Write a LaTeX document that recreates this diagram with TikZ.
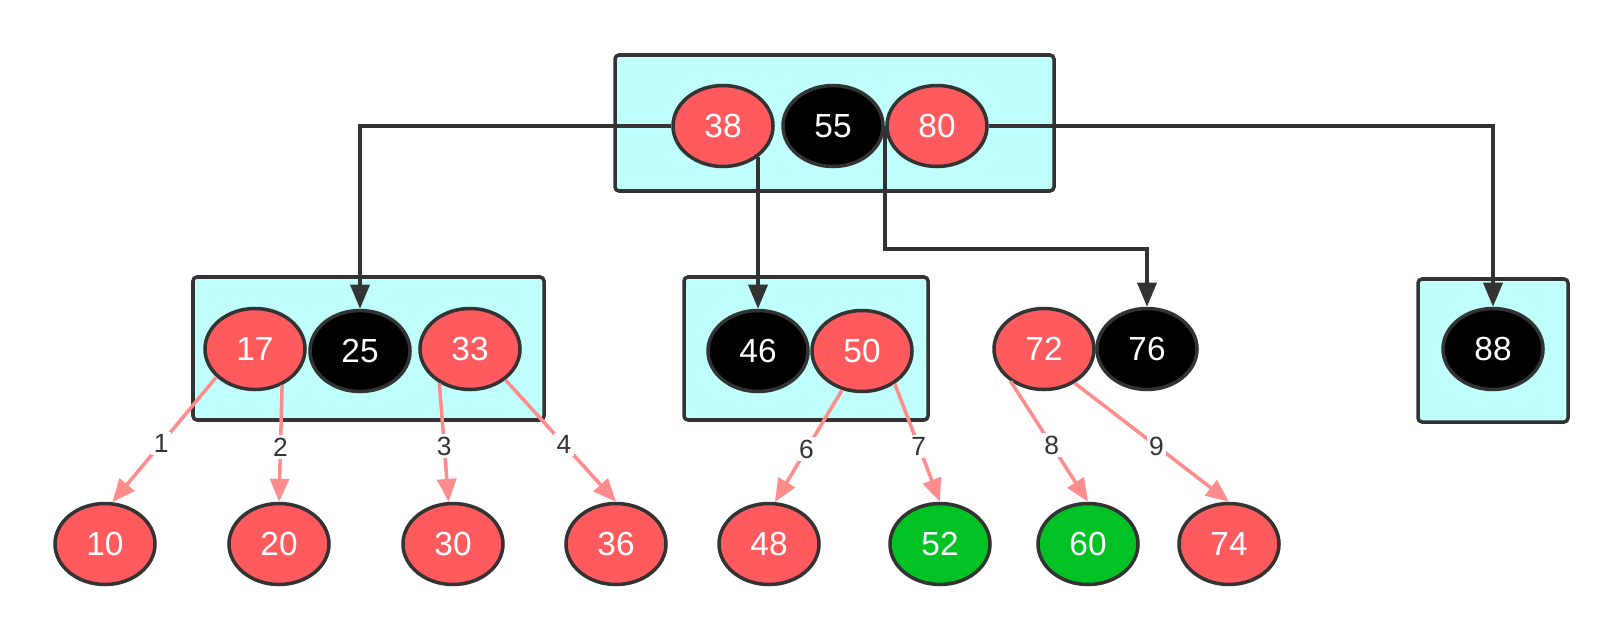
\documentclass[tikz,border=0pt]{standalone}
\usepackage{fontspec}
\setmainfont{Liberation Sans}
\usepackage{xcolor}
\usepackage{tikz}
\usetikzlibrary{arrows.meta,shapes.geometric}
\definecolor{keyred}{HTML}{FF5B5F}
\definecolor{keygreen}{HTML}{00C225}
\definecolor{boxcyan}{HTML}{BFFFFC}
\definecolor{inkgray}{HTML}{333333}
\definecolor{linkpink}{HTML}{FF8C8C}
\newcommand{\keynode}[5]{\node[key,fill=#4] (#1) at (#2,#3) {#5};}
\newcommand{\keybox}[4]{\draw[grp] (#1,#2) rectangle (#3,#4);}
\tikzset{
  key/.style={ellipse,draw=inkgray,line width=2pt,minimum width=2.0cm,
    minimum height=1.62cm,inner sep=0pt,text=white,
    font=\fontsize{19}{19}\selectfont},
  grp/.style={draw=inkgray,fill=boxcyan,line width=2pt,rounded corners=0.08cm},
  conn/.style={draw=inkgray,line width=2pt,-{Triangle[length=0.48cm,width=0.38cm]}},
  link/.style={draw=linkpink,line width=2pt,-{Triangle[length=0.46cm,width=0.38cm]}},
  num/.style={fill=white,inner sep=1.5pt,text=inkgray,pos=0.53,
    font=\fontsize{15}{15}\selectfont}
}

\begin{document}
\begin{tikzpicture}
\useasboundingbox (0,0) rectangle (32.4,-12.76);
% ---- group boxes
\keybox{12.3}{-1.1}{21.08}{-3.82}
\keybox{3.86}{-5.54}{10.88}{-8.4}
\keybox{13.68}{-5.54}{18.56}{-8.4}
\keybox{28.36}{-5.58}{31.36}{-8.44}

% ---- keys
\keynode{n38}{14.46}{-2.52}{keyred}{38}
\keynode{n55}{16.66}{-2.52}{black}{55}
\keynode{n80}{18.74}{-2.52}{keyred}{80}

\keynode{n17}{5.1}{-6.98}{keyred}{17}
\keynode{n25}{7.2}{-7.02}{black}{25}
\keynode{n33}{9.4}{-6.98}{keyred}{33}
\keynode{n46}{15.16}{-7.02}{black}{46}
\keynode{n50}{17.24}{-7.02}{keyred}{50}
\keynode{n72}{20.88}{-6.98}{keyred}{72}
\keynode{n76}{22.94}{-6.98}{black}{76}
\keynode{n88}{29.86}{-6.98}{black}{88}

\keynode{n10}{2.1}{-10.88}{keyred}{10}
\keynode{n20}{5.58}{-10.88}{keyred}{20}
\keynode{n30}{9.06}{-10.88}{keyred}{30}
\keynode{n36}{12.32}{-10.88}{keyred}{36}
\keynode{n48}{15.38}{-10.88}{keyred}{48}
\keynode{n52}{18.8}{-10.88}{keygreen}{52}
\keynode{n60}{21.76}{-10.88}{keygreen}{60}
\keynode{n74}{24.58}{-10.88}{keyred}{74}

% ---- child pointers
\draw[conn] (n38.west) -| (n25.north);
\draw[conn] (n38.-41 -| n46.north) -- (n46.north);
\draw[conn] (n55.east) -- ++(0,-2.46) -| (n76.north);
\draw[conn] (n80.east) -| (n88.north);

% ---- numbered links
\draw[link] (n17.-144) -- node[num] {1} (n10.80);
\draw[link] (n17.-53)  -- node[num] {2} (n20.north);
\draw[link] (n33.-132) -- node[num] {3} (n30.96);
\draw[link] (n33.-41)  -- node[num] {4} (n36.north);
\draw[link] (n50.-117) -- node[num] {6} (n48.82);
\draw[link] (n50.-45)  -- node[num] {7} (n52.north);
\draw[link] (n72.-136) -- node[num] {8} (n60.north);
\draw[link] (n72.-48)  -- node[num] {9} (n74.north);
\end{tikzpicture}
\end{document}
